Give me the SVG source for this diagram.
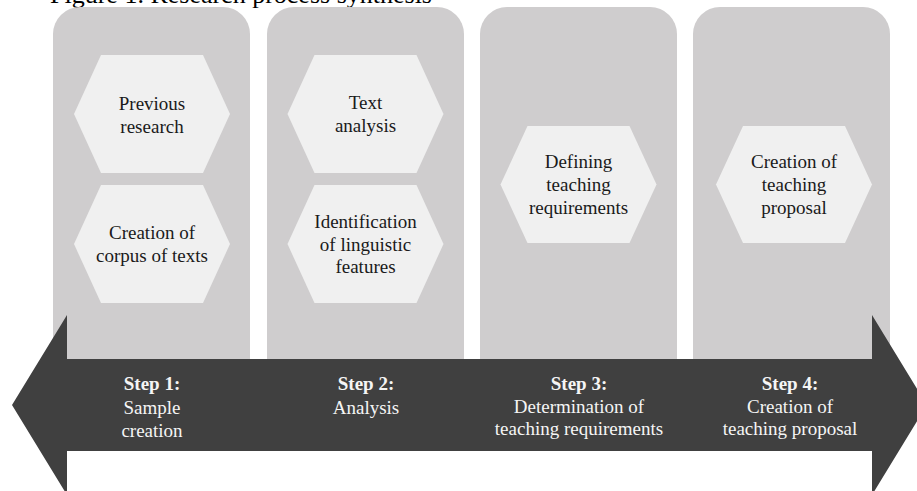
<svg xmlns="http://www.w3.org/2000/svg" width="917" height="491" viewBox="0 0 917 491">
<style>
.col{fill:#cfcdce}
.hex{fill:#f0f0f0}
.t{font-family:"Liberation Serif","Times New Roman",serif;font-size:19px;fill:#1a1a1a;text-anchor:middle}
.s{font-family:"Liberation Serif","Times New Roman",serif;font-size:19px;fill:#f5f5f5;text-anchor:middle}
.b{font-weight:bold}
.title{font-family:"Liberation Serif","Times New Roman",serif;font-size:26px;fill:#000}
</style>
<rect width="917" height="491" fill="#ffffff"/>
<text class="title" x="50" y="3">Figure 1. Research process synthesis</text>
<g id="col1"><path class="col" d="M53,370 V34 A27,27 0 0 1 80,7 H223 A27,27 0 0 1 250,34 V370 Z"/></g>
<g id="col2"><path class="col" d="M267,370 V34 A27,27 0 0 1 294,7 H437 A27,27 0 0 1 464,34 V370 Z"/></g>
<g id="col3"><path class="col" d="M480,370 V34 A27,27 0 0 1 507,7 H650 A27,27 0 0 1 677,34 V370 Z"/></g>
<g id="col4"><path class="col" d="M693,370 V34 A27,27 0 0 1 720,7 H863 A27,27 0 0 1 890,34 V370 Z"/></g>
<g id="connectors">
<polygon fill="#404040" points="12,405 67,315 67,359 872,359 872,315 927,405 872,495 872,451 67,451 67,495"/>
</g>
<g id="hex-previous-research">
<polygon class="hex" points="101,55 203,55 230,114 203,173 101,173 74,114"/>
<text class="t" x="152" y="110">Previous</text>
<text class="t" x="152" y="133">research</text>
</g>
<g id="hex-creation-corpus">
<polygon class="hex" points="101,185 203,185 230,244 203,303 101,303 74,244"/>
<text class="t" x="152" y="239">Creation of</text>
<text class="t" x="152" y="262">corpus of texts</text>
</g>
<g id="hex-text-analysis">
<polygon class="hex" points="314.5,55 416.5,55 443.5,114 416.5,173 314.5,173 287.5,114"/>
<text class="t" x="365.5" y="109">Text</text>
<text class="t" x="365.5" y="132">analysis</text>
</g>
<g id="hex-identification">
<polygon class="hex" points="314.5,185 416.5,185 443.5,244 416.5,303 314.5,303 287.5,244"/>
<text class="t" x="365.5" y="228">Identification</text>
<text class="t" x="365.5" y="251">of linguistic</text>
<text class="t" x="365.5" y="273">features</text>
</g>
<g id="hex-defining">
<polygon class="hex" points="527.5,126 629.5,126 656.5,184.5 629.5,243 527.5,243 500.5,184.5"/>
<text class="t" x="578.5" y="168">Defining</text>
<text class="t" x="578.5" y="191">teaching</text>
<text class="t" x="578.5" y="214">requirements</text>
</g>
<g id="hex-creation-proposal">
<polygon class="hex" points="743,126 845,126 872,184.5 845,243 743,243 716,184.5"/>
<text class="t" x="794" y="168">Creation of</text>
<text class="t" x="794" y="191">teaching</text>
<text class="t" x="794" y="214">proposal</text>
</g>
<g id="step1">
<text class="s b" x="152" y="390">Step 1:</text>
<text class="s" x="152" y="414">Sample</text>
<text class="s" x="152" y="437">creation</text>
</g>
<g id="step2">
<text class="s b" x="366" y="390">Step 2:</text>
<text class="s" x="366" y="414">Analysis</text>
</g>
<g id="step3">
<text class="s b" x="579" y="390">Step 3:</text>
<text class="s" x="579" y="413">Determination of</text>
<text class="s" x="579" y="435">teaching requirements</text>
</g>
<g id="step4">
<text class="s b" x="790" y="390">Step 4:</text>
<text class="s" x="790" y="413">Creation of</text>
<text class="s" x="790" y="435">teaching proposal</text>
</g>
</svg>
